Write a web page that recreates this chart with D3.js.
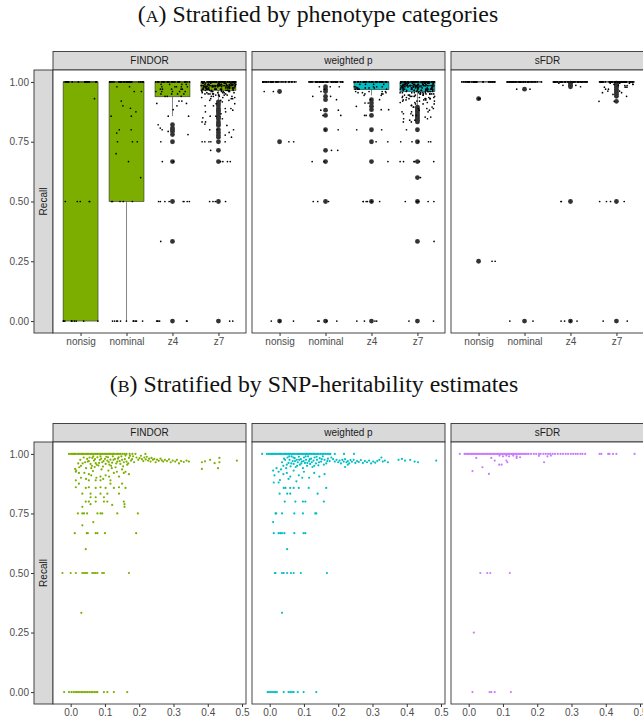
<!DOCTYPE html>
<html>
<head>
<meta charset="utf-8">
<script src="https://cdn.jsdelivr.net/npm/d3@7"></script>
<style>
  body { margin: 0; background: #fff; }
  svg { display: block; }
</style>
</head>
<body>
<svg id="chart" width="643" height="724"></svg>
<script>
// ---------- data ----------
const methods = ["FINDOR", "weighted p", "sFDR"];
const methodColors = ["#7CAE00", "#00BFC4", "#C77CFF"];
const categories = ["nonsig", "nominal", "z4", "z7"];
const recallTicks = [0, 0.25, 0.5, 0.75, 1];
const h2Ticks = [0, 0.1, 0.2, 0.3, 0.4, 0.5];

// Box statistics per category: [lower whisker, q1, median, q3, upper whisker]
const findorBoxes = [[0, 0, 1, 1, 1], [0, 0.5, 1, 1, 1], [0.857, 0.938, 1, 1, 1], [0.923, 0.965, 0.985, 1, 1]];
const weightedBoxes = [[1, 1, 1, 1, 1], [1, 1, 1, 1, 1], [0.944, 0.968, 1, 1, 1], [0.902, 0.96, 0.985, 1, 1]];
const sfdrBoxes = [[1, 1, 1, 1, 1], [1, 1, 1, 1, 1], [1, 1, 1, 1, 1], [1, 1, 1, 1, 1]];

// Recall per phenotype within each category, as [recall, number of phenotypes]
const findorRecall = [
  [[1, 18], [0.93, 1], [0.5, 5], [0, 10]],
  [[1, 30], [0.98, 2], [0.96, 2], [0.92, 1], [0.9, 1], [0.89, 1], [0.875, 1], [0.857, 2], [0.8, 2], [0.786, 1],
   [0.75, 3], [0.7, 1], [0.667, 1], [0.6, 1], [0.5, 5], [0, 12]],
  [[1, 25], [0.99, 4], [0.98, 5], [0.97, 5], [0.96, 5], [0.95, 4], [0.94, 3], [0.92, 2], [0.91, 2], [0.9, 1],
   [0.884, 1], [0.857, 2], [0.821, 1], [0.807, 1], [0.8, 1], [0.793, 1], [0.78, 1], [0.75, 1], [0.667, 2],
   [0.5, 8], [0.333, 1], [0, 6]],
  [[1, 60], [0.995, 10], [0.99, 15], [0.985, 15], [0.98, 15], [0.975, 12], [0.97, 12], [0.965, 10], [0.96, 8],
   [0.955, 6], [0.95, 6], [0.945, 5], [0.94, 4], [0.935, 3], [0.93, 3], [0.923, 3], [0.917, 1], [0.909, 2],
   [0.9, 2], [0.889, 2], [0.882, 1], [0.875, 2], [0.867, 1], [0.857, 2], [0.85, 1], [0.846, 1], [0.833, 2],
   [0.824, 1], [0.818, 1], [0.8, 3], [0.789, 1], [0.778, 1], [0.769, 1], [0.75, 5], [0.714, 1], [0.667, 4],
   [0.5, 4], [0, 2]]
];
const weightedRecall = [
  [[1, 30], [0.96, 2], [0.75, 2], [0, 3]],
  [[1, 40], [0.98, 3], [0.97, 1], [0.96, 1], [0.94, 2], [0.926, 1], [0.882, 2], [0.86, 2], [0.8, 2], [0.714, 2],
   [0.667, 2], [0.5, 3], [0, 4]],
  [[1, 30], [0.99, 4], [0.98, 5], [0.975, 5], [0.97, 5], [0.96, 4], [0.955, 3], [0.95, 3], [0.944, 2], [0.926, 2],
   [0.912, 2], [0.898, 1], [0.884, 2], [0.86, 2], [0.8, 2], [0.75, 2], [0.667, 1], [0.5, 7], [0, 4]],
  [[1, 60], [0.995, 12], [0.99, 15], [0.985, 15], [0.98, 15], [0.975, 12], [0.97, 12], [0.965, 10], [0.96, 10],
   [0.955, 8], [0.95, 8], [0.945, 6], [0.94, 6], [0.935, 5], [0.93, 5], [0.925, 4], [0.92, 4], [0.914, 3],
   [0.908, 3], [0.902, 2], [0.895, 3], [0.889, 3], [0.882, 2], [0.875, 3], [0.867, 2], [0.86, 2], [0.853, 2],
   [0.846, 2], [0.84, 2], [0.833, 2], [0.8, 1], [0.75, 5], [0.667, 6], [0.6, 1], [0.5, 5], [0.333, 1], [0, 2]]
];
const sfdrRecall = [
  [[1, 30], [0.93, 2], [0.25, 2]],
  [[1, 40], [0.97, 2], [0, 2]],
  [[1, 40], [0.995, 1], [0.986, 2], [0.98, 1], [0.5, 2], [0, 4]],
  [[1, 50], [0.995, 3], [0.99, 3], [0.985, 3], [0.978, 3], [0.97, 2], [0.962, 2], [0.955, 2], [0.948, 1],
   [0.94, 1], [0.919, 2], [0.5, 4], [0, 2]]
];

// SNP-heritability estimate and recall per phenotype: [h2, recall]
const findorH2 = [
  // recall = 1
  [-0.005, 1], [0.001, 1], [0.004, 1], [0.008, 1], [0.012, 1], [0.014, 1], [0.019, 1], [0.023, 1], [0.027, 1],
  [0.031, 1], [0.034, 1], [0.038, 1], [0.042, 1], [0.046, 1], [0.049, 1], [0.053, 1], [0.057, 1], [0.061, 1],
  [0.064, 1], [0.068, 1], [0.072, 1], [0.076, 1], [0.079, 1], [0.083, 1], [0.087, 1], [0.091, 1], [0.094, 1],
  [0.098, 1], [0.102, 1], [0.106, 1], [0.109, 1], [0.113, 1], [0.117, 1], [0.121, 1], [0.124, 1], [0.128, 1],
  [0.133, 1], [0.137, 1], [0.141, 1], [0.146, 1], [0.152, 1], [0.158, 1], [0.163, 1], [0.172, 1], [0.18, 1],
  [0.189, 1], [0.218, 1],
  // high recall
  [0.048, 0.979], [0.053, 0.97], [0.058, 0.958], [0.063, 0.983], [0.068, 0.972], [0.073, 0.961], [0.078, 0.986],
  [0.081, 0.951], [0.085, 0.975], [0.087, 0.99], [0.092, 0.965], [0.094, 0.947], [0.1, 0.979], [0.102, 0.958],
  [0.107, 0.972], [0.109, 0.986], [0.113, 0.955], [0.116, 0.976], [0.121, 0.963], [0.123, 0.99], [0.129, 0.979],
  [0.131, 0.944], [0.136, 0.968], [0.14, 0.986], [0.145, 0.958], [0.15, 0.975], [0.155, 0.965], [0.16, 0.993],
  [0.165, 0.955], [0.17, 0.983], [0.176, 0.972], [0.182, 0.99],
  [0.05, 0.968], [0.055, 0.985], [0.062, 0.95], [0.066, 0.99], [0.071, 0.978], [0.076, 0.955], [0.083, 0.962],
  [0.089, 0.98], [0.096, 0.97], [0.104, 0.988], [0.111, 0.966], [0.118, 0.95], [0.125, 0.975], [0.133, 0.96],
  [0.138, 0.98], [0.143, 0.97], [0.148, 0.99], [0.153, 0.948], [0.158, 0.978], [0.163, 0.968], [0.168, 0.96],
  [0.173, 0.992], [0.179, 0.978], [0.185, 0.965], [0.022, 0.96], [0.028, 0.975], [0.038, 0.985], [0.042, 0.965],
  [0.013, 0.937], [0.016, 0.93], [0.025, 0.944], [0.03, 0.95], [0.035, 0.96], [0.04, 0.92], [0.045, 0.94],
  [0.06, 0.94], [0.065, 0.928], [0.07, 0.945], [0.09, 0.935], [0.11, 0.93], [0.12, 0.94], [0.135, 0.925],
  [0.15, 0.935], [0.16, 0.925], [0.03, 0.9], [0.045, 0.895], [0.06, 0.91], [0.075, 0.9], [0.095, 0.895],
  [0.112, 0.905],
  [0.192, 0.985], [0.197, 0.975], [0.201, 0.982], [0.205, 0.992], [0.208, 0.978], [0.212, 0.97], [0.215, 0.985],
  [0.219, 0.977], [0.222, 0.988], [0.226, 0.972], [0.229, 0.98], [0.233, 0.968], [0.236, 0.983], [0.24, 0.975],
  [0.244, 0.979], [0.248, 0.965], [0.252, 0.976], [0.257, 0.971], [0.262, 0.98], [0.266, 0.973], [0.27, 0.968],
  [0.275, 0.975], [0.281, 0.97], [0.287, 0.977], [0.292, 0.965], [0.298, 0.972], [0.305, 0.968], [0.31, 0.975],
  [0.316, 0.96], [0.322, 0.97], [0.33, 0.966], [0.338, 0.972], [0.345, 0.968],
  [0.383, 0.965], [0.383, 0.937], [0.392, 0.969], [0.407, 0.975], [0.42, 0.961], [0.43, 0.94], [0.434, 0.983],
  [0.434, 0.965], [0.485, 0.972],
  [0.015, 0.925], [0.024, 0.92], [0.053, 0.915], [0.087, 0.905], [0.102, 0.91], [0.126, 0.92], [0.141, 0.905],
  [0.155, 0.92], [0.17, 0.915],
  // lower recall
  [0.015, 0.889], [0.053, 0.889], [0.073, 0.889], [0.087, 0.889], [0.116, 0.889],
  [0.015, 0.86], [0.024, 0.875], [0.044, 0.857], [0.053, 0.86], [0.073, 0.857], [0.087, 0.86], [0.102, 0.857],
  [0.116, 0.875], [0.126, 0.857], [0.141, 0.86], [0.15, 0.875], [0.16, 0.857],
  [0.034, 0.833], [0.058, 0.833], [0.087, 0.833], [0.107, 0.833], [0.141, 0.833],
  [0.058, 0.818], [0.073, 0.818], [0.097, 0.818],
  [0.044, 0.8], [0.053, 0.8], [0.073, 0.8], [0.097, 0.8], [0.107, 0.8], [0.155, 0.8],
  [0.058, 0.789], [0.157, 0.789], [0.121, 0.786], [0.034, 0.778], [0.157, 0.778],
  [0.021, 0.75], [0.034, 0.75], [0.039, 0.75], [0.048, 0.75], [0.078, 0.75], [0.087, 0.75], [0.092, 0.75],
  [0.136, 0.75], [0.196, 0.75],
  [0.066, 0.714], [0.034, 0.7],
  [0.012, 0.667], [0.047, 0.667], [0.05, 0.667], [0.073, 0.667], [0.078, 0.667], [0.1, 0.667], [0.191, 0.667],
  [0.044, 0.6],
  [-0.024, 0.5], [0, 0.5], [0.015, 0.5], [0.034, 0.5], [0.039, 0.5], [0.044, 0.5], [0.048, 0.5], [0.063, 0.5],
  [0.068, 0.5], [0.073, 0.5], [0.078, 0.5], [0.092, 0.5], [0.097, 0.5], [0.17, 0.5],
  [0.031, 0.333],
  [-0.019, 0], [-0.005, 0], [0.002, 0], [0.008, 0], [0.013, 0], [0.018, 0], [0.022, 0], [0.027, 0], [0.032, 0],
  [0.036, 0], [0.041, 0], [0.045, 0], [0.05, 0], [0.055, 0], [0.06, 0], [0.064, 0], [0.069, 0], [0.074, 0],
  [0.078, 0], [0.097, 0], [0.107, 0], [0.126, 0], [0.165, 0]
];
const weightedH2 = [
  // recall = 1
  [-0.022, 1], [-0.008, 1], [-0.004, 1], [0.001, 1], [0.005, 1], [0.009, 1], [0.012, 1], [0.016, 1], [0.02, 1],
  [0.024, 1], [0.028, 1], [0.031, 1], [0.035, 1], [0.039, 1], [0.043, 1], [0.047, 1], [0.05, 1], [0.054, 1],
  [0.058, 1], [0.062, 1], [0.066, 1], [0.069, 1], [0.073, 1], [0.077, 1], [0.081, 1], [0.085, 1], [0.088, 1],
  [0.092, 1], [0.096, 1], [0.1, 1], [0.104, 1], [0.107, 1], [0.111, 1], [0.115, 1], [0.119, 1], [0.123, 1],
  [0.127, 1], [0.131, 1], [0.135, 1], [0.139, 1], [0.143, 1], [0.148, 1], [0.153, 1], [0.158, 1], [0.163, 1],
  [0.168, 1], [0.173, 1], [0.177, 1], [0.19, 1], [0.217, 1], [0.246, 1],
  // high recall
  [0.036, 0.965], [0.04, 0.95], [0.045, 0.975], [0.048, 0.94], [0.052, 0.985], [0.055, 0.962], [0.058, 0.975],
  [0.061, 0.948], [0.064, 0.99], [0.067, 0.97], [0.07, 0.958], [0.073, 0.982], [0.076, 0.945], [0.079, 0.975],
  [0.082, 0.965], [0.085, 0.988], [0.088, 0.955], [0.091, 0.978], [0.094, 0.968], [0.097, 0.94], [0.1, 0.985],
  [0.103, 0.962], [0.106, 0.975], [0.109, 0.95], [0.112, 0.99], [0.115, 0.97], [0.118, 0.958], [0.121, 0.98],
  [0.125, 0.945], [0.128, 0.972], [0.131, 0.985], [0.135, 0.96], [0.138, 0.975], [0.142, 0.952], [0.146, 0.982],
  [0.15, 0.968], [0.155, 0.99], [0.16, 0.975], [0.165, 0.96], [0.17, 0.98], [0.175, 0.97], [0.18, 0.985],
  [0.042, 0.98], [0.05, 0.955], [0.057, 0.99], [0.063, 0.96], [0.069, 0.985], [0.074, 0.97], [0.08, 0.95],
  [0.086, 0.975], [0.092, 0.96], [0.099, 0.97], [0.105, 0.99], [0.11, 0.962], [0.117, 0.978], [0.123, 0.965],
  [0.13, 0.95], [0.137, 0.988], [0.144, 0.965], [0.152, 0.978], [0.158, 0.955], [0.168, 0.97],
  [0.01, 0.93], [0.014, 0.91], [0.02, 0.94], [0.026, 0.925], [0.033, 0.935], [0.04, 0.915], [0.05, 0.92],
  [0.06, 0.905], [0.07, 0.93], [0.085, 0.91], [0.1, 0.925], [0.115, 0.9], [0.13, 0.92], [0.145, 0.905],
  [0.16, 0.915], [0.03, 0.89], [0.055, 0.895], [0.078, 0.885], [0.095, 0.9],
  [0.185, 0.978], [0.19, 0.968], [0.195, 0.975], [0.2, 0.965], [0.204, 0.972], [0.208, 0.96], [0.212, 0.975],
  [0.216, 0.968], [0.22, 0.978], [0.224, 0.965], [0.228, 0.97], [0.232, 0.96], [0.236, 0.974], [0.24, 0.967],
  [0.245, 0.975], [0.25, 0.962], [0.255, 0.97], [0.26, 0.966], [0.266, 0.974], [0.272, 0.962], [0.278, 0.97],
  [0.284, 0.965], [0.29, 0.972], [0.296, 0.96], [0.302, 0.968], [0.308, 0.963], [0.314, 0.97], [0.32, 0.975],
  [0.326, 0.985], [0.33, 0.968], [0.336, 0.972], [0.345, 0.965], [0.22, 0.945], [0.228, 0.955],
  [0.376, 0.975], [0.386, 0.979], [0.395, 0.972], [0.41, 0.975], [0.423, 0.968], [0.433, 0.965], [0.486, 0.972],
  // lower recall
  [0.012, 0.88], [0.026, 0.88],
  [0.041, 0.857], [0.046, 0.857], [0.06, 0.857], [0.07, 0.857], [0.085, 0.857], [0.114, 0.857], [0.165, 0.857],
  [0.029, 0.833], [0.051, 0.833], [0.06, 0.833], [0.14, 0.833],
  [0.044, 0.8], [0.075, 0.8], [0.097, 0.8], [0.104, 0.8], [0.158, 0.8],
  [0.017, 0.75], [0.019, 0.75], [0.036, 0.75], [0.072, 0.75], [0.097, 0.75], [0.133, 0.75], [0.136, 0.75],
  [0.01, 0.714],
  [0.012, 0.667], [0.026, 0.667], [0.031, 0.667], [0.036, 0.667], [0.043, 0.667], [0.072, 0.667], [0.099, 0.667],
  [0.104, 0.667],
  [0.051, 0.6],
  [0.015, 0.5], [0.017, 0.5], [0.036, 0.5], [0.041, 0.5], [0.051, 0.5], [0.062, 0.5], [0.07, 0.5], [0.091, 0.5],
  [0.167, 0.5],
  [0.036, 0.333],
  [-0.006, 0], [-0.002, 0], [0.003, 0], [0.007, 0], [0.012, 0], [0.016, 0], [0.021, 0], [0.041, 0], [0.055, 0],
  [0.06, 0], [0.065, 0], [0.07, 0], [0.082, 0], [0.099, 0], [0.136, 0]
];
const sfdrH2 = [
  // recall = 1
  [-0.026, 1], [-0.012, 1], [-0.008, 1], [-0.004, 1], [0.0, 1], [0.004, 1], [0.008, 1], [0.012, 1], [0.016, 1],
  [0.02, 1], [0.024, 1], [0.028, 1], [0.032, 1], [0.036, 1], [0.04, 1], [0.044, 1], [0.048, 1], [0.052, 1],
  [0.056, 1], [0.06, 1], [0.064, 1], [0.068, 1], [0.072, 1], [0.076, 1], [0.08, 1], [0.084, 1], [0.088, 1],
  [0.092, 1], [0.096, 1], [0.1, 1], [0.104, 1], [0.108, 1], [0.112, 1], [0.116, 1], [0.12, 1], [0.124, 1],
  [0.128, 1], [0.132, 1], [0.136, 1], [0.14, 1], [0.144, 1], [0.148, 1], [0.152, 1], [0.156, 1], [0.161, 1],
  [0.165, 1], [0.17, 1], [0.175, 1], [0.182, 1], [0.19, 1], [0.197, 1], [0.205, 1], [0.21, 1], [0.218, 1],
  [0.225, 1], [0.232, 1], [0.238, 1], [0.245, 1], [0.252, 1], [0.26, 1], [0.268, 1], [0.275, 1], [0.283, 1],
  [0.29, 1], [0.298, 1], [0.305, 1], [0.312, 1], [0.318, 1], [0.326, 1], [0.332, 1], [0.34, 1],
  [0.382, 1], [0.387, 1], [0.407, 1], [0.411, 1], [0.421, 1], [0.431, 1], [0.484, 1],
  // below 1
  [0.09, 0.993], [0.1, 0.99], [0.11, 0.993], [0.118, 0.99], [0.13, 0.993], [0.14, 0.99], [0.205, 0.992],
  [0.23, 0.99], [0.24, 0.993], [0.022, 0.983], [0.066, 0.983], [0.076, 0.972], [0.11, 0.972], [0.113, 0.965],
  [0.22, 0.965], [0.089, 0.955], [0.096, 0.955], [0.04, 0.944], [0.011, 0.928], [0.059, 0.916], [0.14, 0.983],
  [0.15, 0.986],
  [0.034, 0.5], [0.054, 0.5], [0.063, 0.5], [0.12, 0.5],
  [0.015, 0.25],
  [0.011, 0], [0.061, 0], [0.066, 0], [0.076, 0], [0.123, 0]
];

const boxesByMethod = [findorBoxes, weightedBoxes, sfdrBoxes];
const recallByMethod = [findorRecall, weightedRecall, sfdrRecall];
const h2ByMethod = [findorH2, weightedH2, sfdrH2];

// ---------- layout ----------
const svg = d3.select("#chart");
const panelX = [53, 252, 451];
const panelW = 193;
const stripH = 18.5;
const rowA = { top: 70, bottom: 333 };
const rowB = { top: 442, bottom: 704 };
const sideStrip = { x: 34, w: 19 };
const sans = "'Liberation Sans', Arial, Helvetica, sans-serif";
const serif = "'Liberation Serif', 'Times New Roman', serif";
const lineCol = "#333333";
const tickTextCol = "#4D4D4D";

// deterministic horizontal spread for the jittered points, in [-0.5, 0.5)
function spread(i, k, ci) {
  const s = Math.sin(i * 12.9898 + k * 78.233 + ci * 37.719) * 43758.5453;
  return s - Math.floor(s) - 0.5;
}

function drawTitle(y, cx, letter, rest) {
  const t = svg.append("text")
    .attr("x", cx).attr("y", y)
    .attr("text-anchor", "middle")
    .attr("font-family", serif)
    .attr("font-size", 23.8)
    .attr("fill", "#111");
  t.append("tspan").text("(");
  t.append("tspan").attr("font-size", 17.7).text(letter);
  t.append("tspan").text(") " + rest);
}

function drawFrame(row, yScale) {
  // side strip carrying the y-axis title
  svg.append("rect")
    .attr("x", sideStrip.x).attr("y", row.top)
    .attr("width", sideStrip.w).attr("height", row.bottom - row.top)
    .attr("fill", "#D9D9D9").attr("stroke", lineCol).attr("stroke-width", 0.9);
  svg.append("text")
    .attr("transform", `translate(${sideStrip.x + sideStrip.w / 2 + 3.5},${(row.top + row.bottom) / 2}) rotate(-90)`)
    .attr("text-anchor", "middle")
    .attr("font-family", sans).attr("font-size", 10).attr("fill", "#1A1A1A")
    .text("Recall");

  // y axis, left of the side strip
  const ax = svg.append("g")
    .attr("transform", `translate(${sideStrip.x},0)`)
    .call(d3.axisLeft(yScale).tickValues(recallTicks).tickFormat(d3.format(".2f")).tickSize(3).tickPadding(2));
  ax.select(".domain").remove();
  ax.selectAll("line").attr("stroke", lineCol);
  ax.selectAll("text").attr("fill", tickTextCol).attr("font-family", sans).attr("font-size", 10);

  methods.forEach((m, k) => {
    const x0 = panelX[k];
    svg.append("rect")
      .attr("x", x0).attr("y", row.top - stripH)
      .attr("width", panelW).attr("height", stripH)
      .attr("fill", "#D9D9D9").attr("stroke", lineCol).attr("stroke-width", 0.9);
    svg.append("text")
      .attr("x", x0 + panelW / 2).attr("y", row.top - stripH / 2 + 3.6)
      .attr("text-anchor", "middle")
      .attr("font-family", sans).attr("font-size", 10).attr("fill", "#1A1A1A")
      .text(m);
    svg.append("rect")
      .attr("x", x0).attr("y", row.top)
      .attr("width", panelW).attr("height", row.bottom - row.top)
      .attr("fill", "#fff").attr("stroke", "none");
  });
}

function drawBorders(row) {
  methods.forEach((m, k) => {
    svg.append("rect")
      .attr("x", panelX[k]).attr("y", row.top)
      .attr("width", panelW).attr("height", row.bottom - row.top)
      .attr("fill", "none").attr("stroke", lineCol).attr("stroke-width", 0.9);
  });
}

function styleXAxis(g) {
  g.select(".domain").remove();
  g.selectAll("line").attr("stroke", lineCol);
  g.selectAll("text").attr("fill", tickTextCol).attr("font-family", sans).attr("font-size", 10);
}

// ---------- titles ----------
drawTitle(22, 318, "A", "Stratified by phenotype categories");
drawTitle(392, 314, "B", "Stratified by SNP-heritability estimates");

// ---------- (A) box plots with jittered phenotypes ----------
const yA = d3.scaleLinear().domain([-0.05, 1.05]).range([rowA.bottom, rowA.top]);
drawFrame(rowA, yA);

methods.forEach((m, k) => {
  const x = d3.scalePoint().domain(categories).range([panelX[k], panelX[k] + panelW]).padding(0.6);
  const step = x.step();
  const boxW = 0.76 * step;
  const g = svg.append("g");

  categories.forEach((c, ci) => {
    const [lo, q1, med, q3, hi] = boxesByMethod[k][ci];
    const cx = x(c);
    // whiskers
    g.append("line").attr("x1", cx).attr("x2", cx).attr("y1", yA(q1)).attr("y2", yA(lo))
      .attr("stroke", lineCol).attr("stroke-width", 0.6);
    g.append("line").attr("x1", cx).attr("x2", cx).attr("y1", yA(q3)).attr("y2", yA(hi))
      .attr("stroke", lineCol).attr("stroke-width", 0.6);
    // box
    g.append("rect")
      .attr("x", cx - boxW / 2).attr("y", yA(q3))
      .attr("width", boxW).attr("height", Math.max(0, yA(q1) - yA(q3)))
      .attr("fill", methodColors[k]).attr("stroke", lineCol).attr("stroke-width", 0.6);
    g.append("line")
      .attr("x1", cx - boxW / 2).attr("x2", cx + boxW / 2)
      .attr("y1", yA(med)).attr("y2", yA(med))
      .attr("stroke", lineCol).attr("stroke-width", 1.2);
    // outliers beyond the whiskers
    recallByMethod[k][ci]
      .filter(([v]) => v < lo || v > hi)
      .forEach(([v]) => {
        g.append("circle").attr("cx", cx).attr("cy", yA(v)).attr("r", 2.4).attr("fill", "#333333");
      });
  });

  // jittered phenotype points on top (spread across the box width)
  categories.forEach((c, ci) => {
    const cx = x(c);
    const pts = recallByMethod[k][ci].flatMap(([v, n]) => d3.range(n).map(() => v));
    g.selectAll(null)
      .data(pts)
      .join("circle")
      .attr("cx", (v, i) => cx + spread(i + 1, k + 1, ci + 1) * 0.76 * step)
      .attr("cy", v => yA(v))
      .attr("r", 0.85)
      .attr("fill", "#000");
  });

  const xa = svg.append("g")
    .attr("transform", `translate(0,${rowA.bottom})`)
    .call(d3.axisBottom(x).tickSize(3).tickPadding(2));
  styleXAxis(xa);
});
drawBorders(rowA);

// ---------- (B) recall against SNP-heritability ----------
const allH2 = h2ByMethod.flatMap(arr => arr.map(d => d[0]));
const [h2Min, h2Max] = d3.extent(allH2);
const h2Pad = 0.05 * (h2Max - h2Min);
const yB = d3.scaleLinear().domain([-0.05, 1.05]).range([rowB.bottom, rowB.top]);
drawFrame(rowB, yB);

methods.forEach((m, k) => {
  const x = d3.scaleLinear().domain([h2Min - h2Pad, h2Max + h2Pad]).range([panelX[k], panelX[k] + panelW]);
  svg.append("g")
    .selectAll("circle")
    .data(h2ByMethod[k])
    .join("circle")
    .attr("cx", d => x(d[0]))
    .attr("cy", d => yB(d[1]))
    .attr("r", 1.1)
    .attr("fill", methodColors[k]);

  const xa = svg.append("g")
    .attr("transform", `translate(0,${rowB.bottom})`)
    .call(d3.axisBottom(x).tickValues(h2Ticks).tickFormat(d3.format(".1f")).tickSize(3).tickPadding(2));
  styleXAxis(xa);
});
drawBorders(rowB);
</script>
</body>
</html>
